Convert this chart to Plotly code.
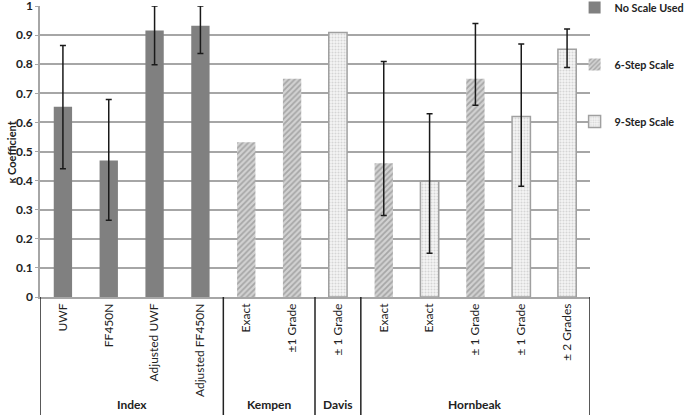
import plotly.graph_objects as go

labels = ["UWF", "FF450N", "Adjusted UWF", "Adjusted FF450N",
          "Exact", "±1 Grade",
          "± 1 Grade",
          "Exact", "Exact", "± 1 Grade", "± 1 Grade", "± 2 Grades"]
scales = ["No Scale Used"] * 4 + ["6-Step Scale"] * 2 + ["9-Step Scale"] + \
         ["6-Step Scale", "9-Step Scale", "6-Step Scale", "9-Step Scale", "9-Step Scale"]
values = [0.654, 0.469, 0.916, 0.932, 0.532, 0.75, 0.909, 0.46, 0.398, 0.75, 0.62, 0.851]
err_plus = [0.21, 0.21, 0.084, 0.068, None, None, None, 0.349, 0.232, 0.19, 0.249, 0.07]
err_minus = [0.213, 0.205, 0.118, 0.095, None, None, None, 0.18, 0.248, 0.091, 0.239, 0.062]

groups = ["Index", "Kempen", "Davis", "Hornbeak"]
group_sizes = [4, 2, 1, 5]

FONT = "Lato"

styles = {
    "No Scale Used": dict(color="#808080", line=dict(width=0)),
    "6-Step Scale": dict(color="#d2d2d2", line=dict(width=0),
                         pattern=dict(shape="/", size=4, solidity=0.45,
                                      fgcolor="#7a7a7a", bgcolor="#d2d2d2")),
    "9-Step Scale": dict(color="white", line=dict(width=1.5, color="#a0a0a0"),
                         pattern=dict(shape=".", size=3, solidity=0.4,
                                      fgcolor="#b4b4b4", bgcolor="#f6f6f6")),
}

fig = go.Figure()
for s in ["No Scale Used", "6-Step Scale", "9-Step Scale"]:
    idx = [i for i, sc in enumerate(scales) if sc == s]
    with_err = [i for i in idx if err_plus[i] is not None]
    no_err = [i for i in idx if err_plus[i] is None]
    first = True
    for part, has_err in ((with_err, True), (no_err, False)):
        if not part:
            continue
        kw = {}
        if has_err:
            kw["error_y"] = dict(type="data", symmetric=False,
                                 array=[err_plus[i] for i in part],
                                 arrayminus=[err_minus[i] for i in part],
                                 color="#1a1a1a", thickness=1.5, width=3)
        fig.add_trace(go.Bar(
            x=part, y=[values[i] for i in part], width=0.4,
            name=s, legendgroup=s, showlegend=first,
            marker=styles[s], **kw))
        first = False

# group separators and labels below the axis
bounds = [-0.5]
for n in group_sizes:
    bounds.append(bounds[-1] + n)
for b in bounds:
    fig.add_shape(type="line", xref="x", yref="paper", x0=b, x1=b, y0=0, y1=-0.41,
                  line=dict(color="#222222", width=1.5))
for g, a, b in zip(groups, bounds[:-1], bounds[1:]):
    fig.add_annotation(x=(a + b) / 2, xref="x", y=-0.37, yref="paper", text=g,
                       showarrow=False, yanchor="middle",
                       font=dict(family=FONT, size=12, color="#222", weight="bold"))

# y axis title as annotation (title would be clamped to the margin edge)
fig.add_annotation(x=-0.051, xref="paper", y=0.5, yref="paper", text="κ Coefficient",
                   textangle=-90, showarrow=False, xanchor="center", yanchor="middle",
                   font=dict(family=FONT, size=11, color="#222", weight="bold"))

fig.update_layout(
    width=685, height=415,
    margin=dict(l=40, r=95, t=6, b=118, autoexpand=False),
    paper_bgcolor="white", plot_bgcolor="white",
    barmode="overlay",
    font=dict(family=FONT, size=12, color="#222"),
    legend=dict(x=0.972, y=1.045, xanchor="left", yanchor="top", itemwidth=30,
                traceorder="grouped", tracegroupgap=38, bgcolor="rgba(0,0,0,0)",
                font=dict(family=FONT, size=10.8, color="#222", weight="bold")),
    xaxis=dict(range=[-0.5, 11.5], tickmode="array", automargin=False,
               tickvals=list(range(len(labels))), ticktext=labels,
               tickangle=-90, showgrid=False, showline=True,
               linecolor="#a6a6a6", linewidth=1.5, ticks="",
               tickfont=dict(family=FONT, size=12, color="#222")),
    yaxis=dict(range=[0, 1], dtick=0.1, showgrid=True, gridcolor="#a6a6a6",
               gridwidth=1.5, showline=True, linecolor="#a6a6a6", linewidth=1.5,
               ticks="outside", ticklen=3, tickcolor="#a6a6a6", zeroline=False,
               automargin=False, ticklabeloverflow="allow",
               tickfont=dict(family=FONT, size=12, color="#222", weight="bold")),
)

fig.write_html("out.html", config={"displayModeBar": False},
               post_script="document.body.style.margin='0';")
